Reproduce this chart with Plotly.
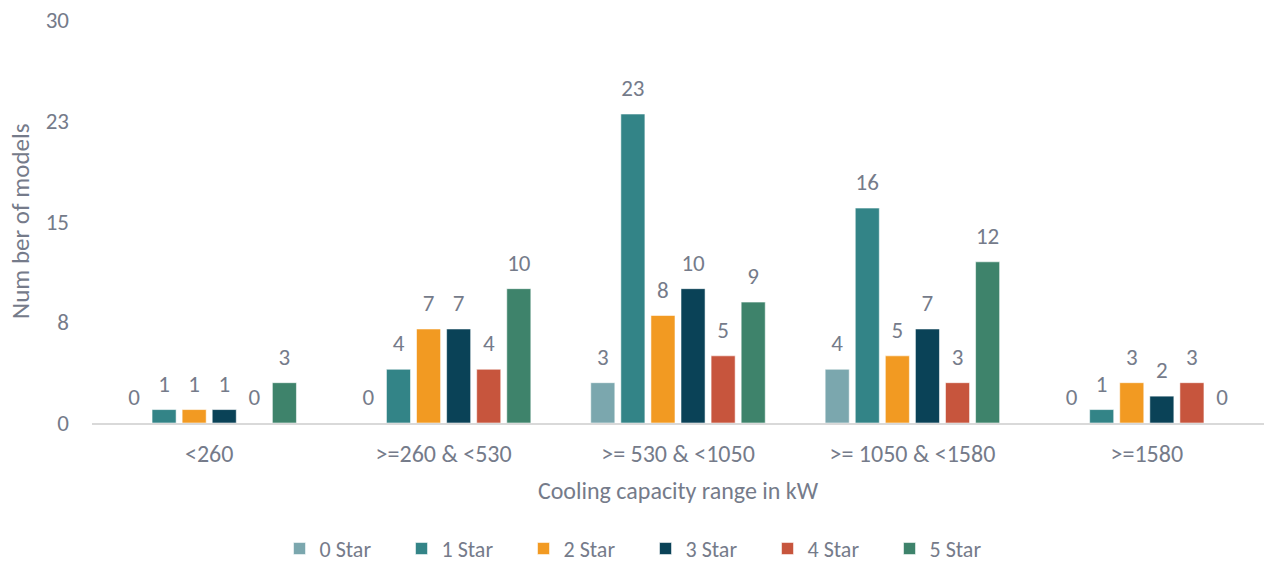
import plotly.graph_objects as go

# Cooling capacity bands (kW) and model counts per star rating
categories = ["<260", ">=260 & <530", ">= 530 & <1050", ">= 1050 & <1580", ">=1580"]
star_labels = ["0 Star", "1 Star", "2 Star", "3 Star", "4 Star", "5 Star"]
star_0 = [0, 0, 3, 4, 0]
star_1 = [1, 4, 23, 16, 1]
star_2 = [1, 7, 8, 5, 3]
star_3 = [1, 7, 10, 7, 2]
star_4 = [0, 4, 5, 3, 3]
star_5 = [3, 10, 9, 12, 0]
series = [star_0, star_1, star_2, star_3, star_4, star_5]
colors = ["#7BA7AE", "#338487", "#F29A22", "#0A4257", "#C7553D", "#3E836B"]

y_ticks = [0, 7.5, 15, 22.5, 30]
y_tick_text = ["0", "8", "15", "23", "30"]

FONT = "Carlito, Lato, sans-serif"
TEXT = "#757B8A"

fig = go.Figure()
for name, vals, col in zip(star_labels, series, colors):
    fig.add_trace(go.Bar(
        x=categories, y=vals, name=name,
        marker=dict(color=col, line=dict(color="rgba(255,255,255,0.55)", width=1)),
        hoverinfo="x+y+name",
    ))

# value labels sit above each bar, offset by an invisible marker
for name, vals in zip(star_labels, series):
    fig.add_trace(go.Scatter(
        x=categories, y=vals, mode="markers+text",
        text=[str(v) for v in vals], textposition="top center",
        textfont=dict(family=FONT, size=23, color=TEXT),
        marker=dict(size=18, color="rgba(0,0,0,0)"),
        showlegend=False, hoverinfo="skip", cliponaxis=False,
    ))

fig.update_layout(
    width=1264, height=563,
    barmode="group", bargap=0.23, bargroupgap=0.2,
    scattermode="group", scattergap=0.23,
    plot_bgcolor="white", paper_bgcolor="white",
    margin=dict(l=92, r=0, t=20, b=140, autoexpand=False),
    font=dict(family=FONT, size=23, color=TEXT),
    legend=dict(
        orientation="h", x=0.160, xanchor="left",
        y=-0.312, yanchor="middle",
        font=dict(family=FONT, size=22, color=TEXT),
        itemwidth=30, tracegroupgap=0,
        entrywidth=77, entrywidthmode="pixels",
    ),
    # vertical axis title placed at the far left edge
    annotations=[dict(
        text="Num ber of models", textangle=-90,
        xref="paper", yref="paper", x=-0.061, y=0.5,
        xanchor="center", yanchor="middle", showarrow=False,
        font=dict(family=FONT, size=25, color=TEXT),
    )],
)
fig.update_xaxes(
    automargin=False, tickangle=0,
    showline=True, linecolor="#D9D9D9", linewidth=2,
    showgrid=False, ticks="", ticklabelstandoff=8,
    tickfont=dict(family=FONT, size=24, color=TEXT),
    title=dict(text="Cooling capacity range in kW",
               font=dict(family=FONT, size=24, color=TEXT), standoff=15),
)
fig.update_yaxes(
    automargin=False,
    range=[0, 30], tickvals=y_ticks, ticktext=y_tick_text,
    showgrid=False, zeroline=False, showline=False, ticks="",
    ticklabelstandoff=22,
    tickfont=dict(family=FONT, size=23, color=TEXT),
)

fig.write_html("out.html")
